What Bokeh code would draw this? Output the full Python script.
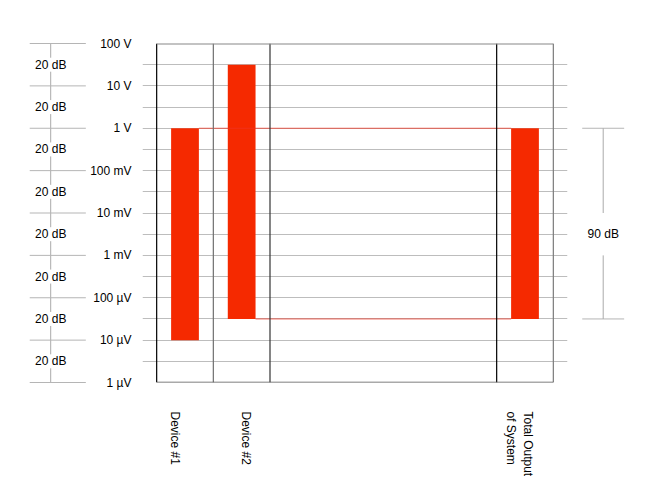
import math
from bokeh.plotting import figure
from bokeh.models import Range1d, FixedTicker
from bokeh.embed import file_html
from bokeh.resources import INLINE
from bokeh.core.properties import value

# ---------------- data ----------------
categories = ["Device #1", "Device #2", "Total Output\nof System"]
bar_x = [0.5, 1.5, 6.5]                 # column centres
bar_top = [1.0, 31.6, 1.0]              # volts
bar_bottom = [1e-5, 3.16e-5, 3.16e-5]   # volts
label_x = [0.33, 1.57, 6.40]            # category label positions

decade_ticks = [1e-6, 1e-5, 1e-4, 1e-3, 1e-2, 1e-1, 1.0, 10.0, 100.0]
decade_labels = ["1 µV", "10 µV", "100 µV", "1 mV", "10 mV", "100 mV", "1 V", "10 V", "100 V"]
grid_ticks = [3.16e-6, 1e-5, 3.16e-5, 1e-4, 3.16e-4, 1e-3, 3.16e-3, 1e-2,
              3.16e-2, 1e-1, 0.316, 1.0, 3.16, 10.0, 31.6]
step_pos = [3.16e-6, 3.16e-5, 3.16e-4, 3.16e-3, 3.16e-2, 0.316, 3.16, 31.6]
step_labels = ["20 dB"] * 8
total_label = ["90 dB"]
total_label_pos = [3.16e-3]
total_gap = [1e-2, 1e-3]
column_edges = [0, 1, 2, 6, 7]
edge_colors = ["#000000", "#6e6e6e", "#333333", "#000000", "#7a7a7a"]

BAR_W = 0.49
FONT = "Liberation Sans"
FS = "12px"

p = figure(width=644, height=489, output_backend="svg", toolbar_location=None,
           x_range=Range1d(-0.25, 7.25), y_range=Range1d(1e-6, 100),
           y_axis_type="log", min_border_left=142, min_border_right=77,
           min_border_top=43, min_border_bottom=107)
p.outline_line_color = None
p.background_fill_color = "white"
p.border_fill_color = "white"

# grid
p.xgrid.visible = False
p.ygrid.ticker = FixedTicker(ticks=grid_ticks)
p.ygrid.grid_line_color = "#bdbdbd"
p.ygrid.grid_line_width = 1

# y axis
ya = p.yaxis[0]
ya.ticker = FixedTicker(ticks=decade_ticks)
ya.major_label_overrides = {t: l for t, l in zip(decade_ticks, decade_labels)}
ya.axis_line_color = None
ya.major_tick_line_color = None
ya.minor_tick_line_color = None
ya.major_label_standoff = 5
ya.major_label_text_font = FONT
ya.major_label_text_font_size = FS
ya.major_label_text_color = "#000000"

# x axis
xa = p.xaxis[0]
xa.ticker = FixedTicker(ticks=label_x)
xa.major_label_overrides = {t: l for t, l in zip(label_x, categories)}
xa.major_label_orientation = -math.pi / 2
xa.axis_line_color = None
xa.major_tick_line_color = None
xa.minor_tick_line_color = None
xa.major_label_standoff = 23
xa.major_label_text_font = FONT
xa.major_label_text_font_size = FS
xa.major_label_text_color = "#000000"

# bars
p.vbar(x=bar_x, width=BAR_W, top=bar_top, bottom=bar_bottom,
       fill_color="#f52900", line_color=None)

# red connectors
p.segment(x0=[bar_x[0] + BAR_W / 2, bar_x[1] + BAR_W / 2],
          y0=[bar_top[2], bar_bottom[2]],
          x1=[bar_x[2] - BAR_W / 2, bar_x[2] - BAR_W / 2],
          y1=[bar_top[2], bar_bottom[2]],
          line_color="#ee3322", line_alpha=0.75, line_width=1)

# frame / column lines
p.segment(x0=column_edges, x1=column_edges,
          y0=[decade_ticks[0]] * 5, y1=[decade_ticks[-1]] * 5,
          line_color=edge_colors, line_width=1.2)
p.segment(x0=[column_edges[0]], x1=[column_edges[-1]],
          y0=[decade_ticks[-1]], y1=[decade_ticks[-1]],
          line_color="#888888", line_width=2)
p.segment(x0=[column_edges[0]], x1=[column_edges[-1]],
          y0=[decade_ticks[0]], y1=[decade_ticks[0]],
          line_color="#555555", line_width=1.3)

# left dB scale
LX, LX0, LX1 = -1.87, -2.24, -1.25
r = p.segment(x0=[LX], x1=[LX], y0=[decade_ticks[0]], y1=[decade_ticks[-1]],
              line_color="#aaaaaa", line_width=1)
r.level = "overlay"
r = p.segment(x0=[LX0] * len(decade_ticks), x1=[LX1] * len(decade_ticks),
              y0=decade_ticks, y1=decade_ticks, line_color="#b5b5b5", line_width=1)
r.level = "overlay"
r = p.text(x=[LX] * len(step_pos), y=step_pos, text=step_labels,
           text_align="center", text_baseline="middle",
           text_font=value(FONT), text_font_size=FS, text_color="#000000",
           background_fill_color="white")
r.level = "overlay"

# right dimension (total range)
RX, RX0, RX1 = 7.88, 7.51, 8.25
r = p.segment(x0=[RX0, RX0], x1=[RX1, RX1], y0=[bar_top[2], bar_bottom[2]],
              y1=[bar_top[2], bar_bottom[2]], line_color="#b5b5b5", line_width=1)
r.level = "overlay"
r = p.segment(x0=[RX, RX], x1=[RX, RX], y0=[bar_top[2], total_gap[1]],
              y1=[total_gap[0], bar_bottom[2]], line_color="#aaaaaa", line_width=1)
r.level = "overlay"
r = p.text(x=[RX], y=total_label_pos, text=total_label,
           text_align="center", text_baseline="middle",
           text_font=value(FONT), text_font_size=FS, text_color="#000000")
r.level = "overlay"

open("out.html", "w").write(file_html(p, INLINE))
